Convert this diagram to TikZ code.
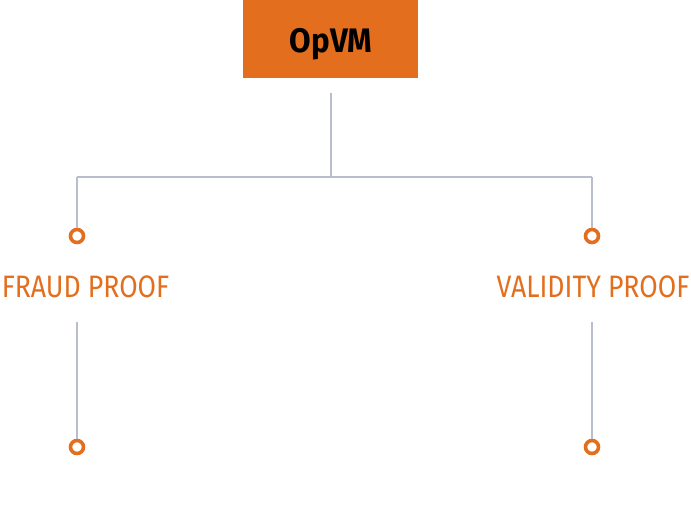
\documentclass[tikz,border=0pt]{standalone}
\usepackage{fontspec}
\usetikzlibrary{positioning}
\newfontfamily\titlefont[FakeStretch=0.92]{Fira Sans}
\newfontfamily\labelfont[FakeStretch=0.86]{Fira Sans}
\definecolor{opvmorange}{HTML}{E36F1E}
\definecolor{linegray}{HTML}{B9BDCC}
\tikzset{
  box/.style={fill=opvmorange, minimum width=175pt, minimum height=78pt, inner sep=0pt},
  dot/.style={circle, draw=opvmorange, fill=white, line width=3.6pt, minimum size=13pt, inner sep=0pt},
  proof/.style={text=opvmorange, inner sep=0pt, font=\labelfont\fontsize{31}{31}\selectfont},
  link/.style={draw=linegray, line width=1.4pt}
}
\begin{document}
\begin{tikzpicture}[x=1pt,y=-1pt]
  \useasboundingbox (0,0) rectangle (691,507);

  \node[box] (opvm) at (330.5,39) {};
  \node[anchor=base] (opvmtext) at (331,52) {\titlefont\bfseries\fontsize{34}{34}\selectfont OpVM};

  \coordinate (stem) at (331,93);
  \coordinate (fork) at (331,177);
  \coordinate (forkL) at (77,177);
  \coordinate (forkR) at (592,177);

  \node[dot] (fraudtop) at (77,236) {};
  \node[dot] (validtop) at (592,236) {};
  \node[proof] (fraud) at (85.5,287) {FRAUD PROOF};
  \node[proof] (valid) at (593,287) {VALIDITY PROOF};
  \node[dot] (fraudend) at (77,447) {};
  \node[dot] (validend) at (592,447) {};

  \coordinate (fraudlow) at (77,322);
  \coordinate (validlow) at (592,322);

  % Tree
  \draw[link] (stem) -- (fork);
  \draw[link] (forkL) -- (forkR);
  \draw[link] (forkL) -- (fraudtop);
  \draw[link] (forkR) -- (validtop);

  % Below the labels
  \draw[link] (fraudlow) -- (fraudend);
  \draw[link] (validlow) -- (validend);

\end{tikzpicture}
\end{document}
